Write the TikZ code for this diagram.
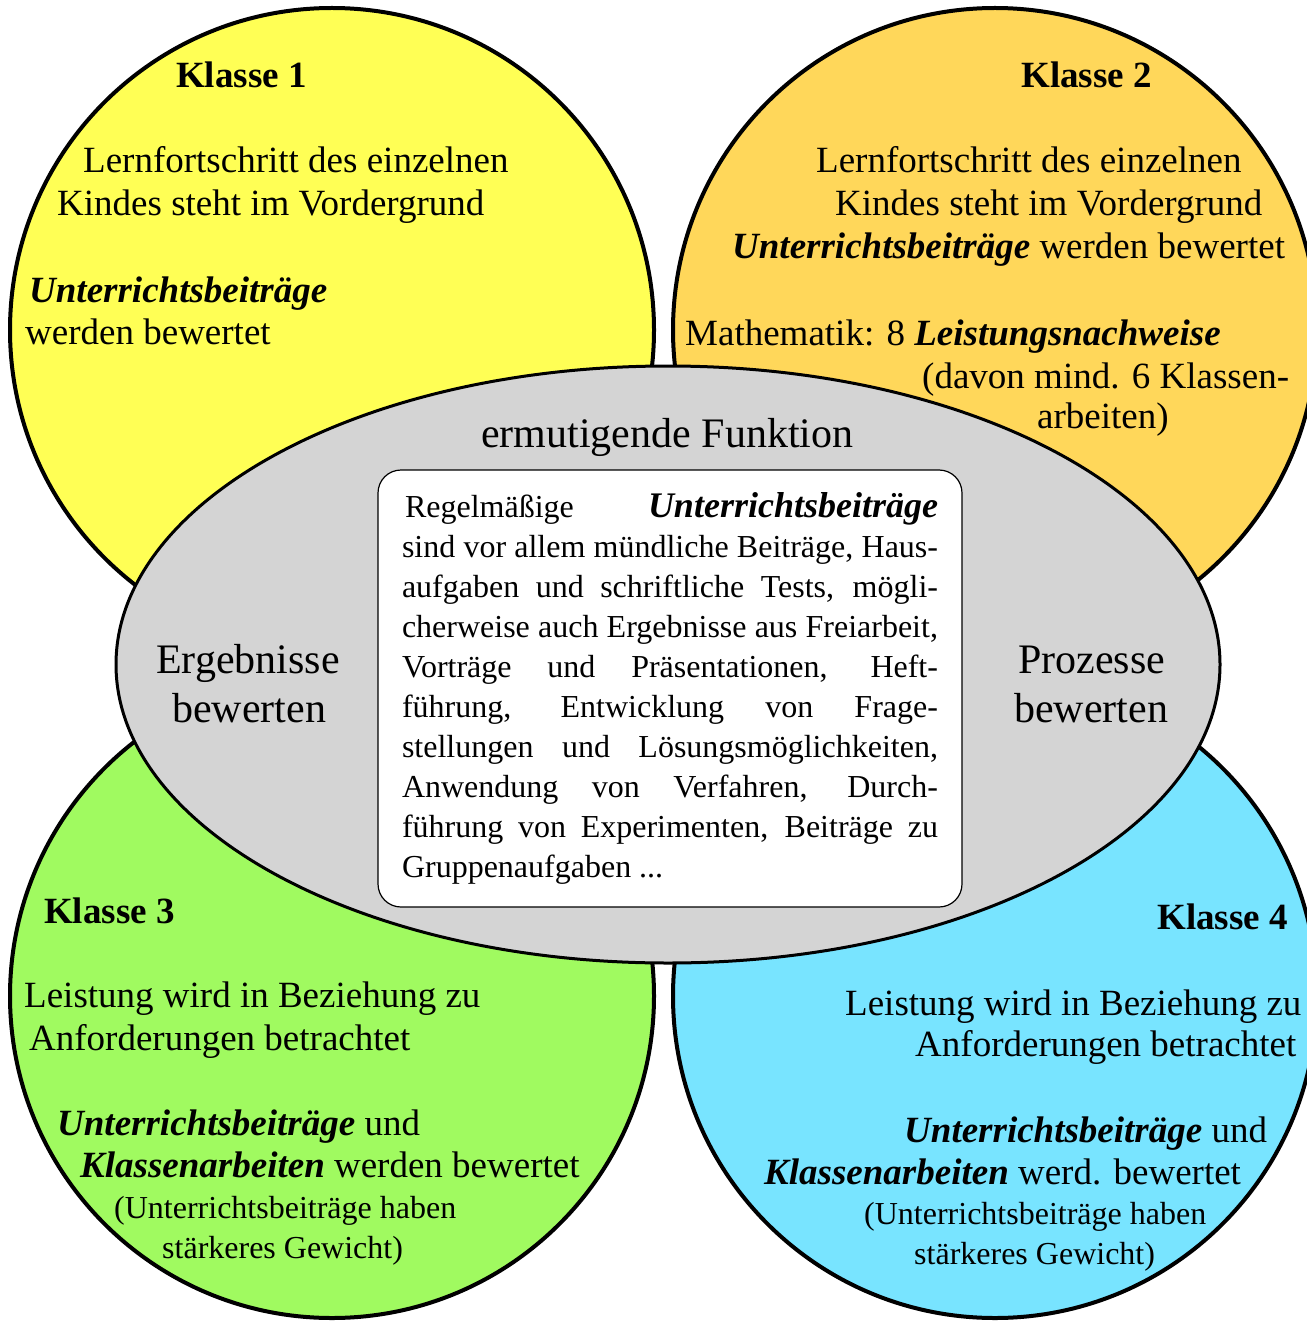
\documentclass[tikz,border=0pt]{standalone}
\usepackage{fontspec}
\setmainfont{Liberation Serif}
\usetikzlibrary{shapes.geometric}
\definecolor{gelb}{HTML}{FFFF55}
\definecolor{orange}{HTML}{FFD75A}
\definecolor{gruen}{HTML}{A0FA60}
\definecolor{himmel}{HTML}{78E4FF}
\definecolor{grau}{HTML}{D4D4D4}
\newcommand{\fett}[1]{\textbf{\textit{#1}}}
\begin{document}
\begin{tikzpicture}[x=1pt, y=-1pt,
  klasse/.style={circle,draw,line width=4pt,minimum size=644pt,inner sep=0pt},
  mitte/.style={ellipse,draw,fill=grau,line width=3pt,minimum width=1104pt,minimum height=597pt,inner sep=0pt},
  kasten/.style={rectangle,draw,fill=white,rounded corners=23pt,line width=1.2pt,minimum width=584pt,minimum height=437pt,
    text width=536pt,align=justify,inner sep=0pt,font=\fontsize{32}{40}\selectfont},
  zeile/.style={font=\fontsize{37}{43}\selectfont},
  titel/.style={font=\bfseries\fontsize{37}{43}\selectfont},
  klein/.style={font=\fontsize{32}{40}\selectfont},
  gross/.style={font=\fontsize{42}{48}\selectfont}]
\useasboundingbox (0,0) rectangle (1306,1321);
% vier Klassen
\node[klasse,fill=gelb] (k1) at (332,330) {};
\node[klasse,fill=orange] (k2) at (995,330) {};
\node[klasse,fill=gruen] (k3) at (332,996) {};
\node[klasse,fill=himmel] (k4) at (995,996) {};
% Mitte
\node[mitte] (ell) at (668,664.5) {};
\node[kasten] (kasten) at (670,688.5) {\hspace*{3pt}Regelmäßige {\fontsize{36}{40}\selectfont\fett{Unterrichtsbeiträge}}\linebreak
  sind vor allem mündliche Beiträge, Haus-\linebreak aufgaben und schriftliche Tests, mögli-\linebreak
  cherweise auch Ergebnisse aus Freiarbeit,\linebreak Vorträge und Präsentationen, Heft-\linebreak
  führung, Entwicklung von Frage-\linebreak stellungen und Lösungsmöglichkeiten,\linebreak
  Anwendung von Verfahren, Durch-\linebreak führung von Experimenten, Beiträge zu\linebreak
  Gruppenaufgaben ...};
\begin{scope}[every node/.style={anchor=base west,inner sep=0pt}]
\node[gross] (funktion) at (481,447) {ermutigende Funktion};
\node[gross] (erg) at (156,673) {Ergebnisse};
\node[gross] (erg2) at (172,722) {bewerten};
\node[gross] (proz) at (1018,673) {Prozesse};
\node[gross] (proz2) at (1014,722) {bewerten};
% Klasse 1
\node[titel] (t1) at (176,88) {Klasse 1};
\node[zeile] (k1a) at (83,173) {Lernfortschritt des einzelnen};
\node[zeile] (k1b) at (57,216) {Kindes steht im Vordergrund};
\node[zeile] (k1c) at (29,302) {\fett{Unterrichtsbeiträge}};
\node[zeile] (k1d) at (25,344) {werden bewertet};
% Klasse 2
\node[titel] (t2) at (1021,88) {Klasse 2};
\node[zeile] (k2a) at (816,173) {Lernfortschritt des einzelnen};
\node[zeile] (k2b) at (835,216) {Kindes steht im Vordergrund};
\node[zeile] (k2c) at (732,259) {\fett{Unterrichtsbeiträge} werden bewertet};
\node[zeile] (k2d) at (685,345) {Mathematik: 8 \fett{Leistungsnachweise}};
\node[zeile] (k2e) at (922,388) {(davon mind. 6 Klassen-};
\node[zeile] (k2f) at (1037,428) {arbeiten)};
% Klasse 3
\node[titel] (t3) at (44,923) {Klasse 3};
\node[zeile] (k3a) at (24,1007) {Leistung wird in Beziehung zu};
\node[zeile] (k3b) at (29,1050) {Anforderungen betrachtet};
\node[zeile] (k3c) at (57,1135) {\fett{Unterrichtsbeiträge} und};
\node[zeile] (k3d) at (80,1177) {\fett{Klassenarbeiten} werden bewertet};
\node[klein] (k3e) at (114,1218) {(Unterrichtsbeiträge haben};
\node[klein] (k3f) at (162,1258) {stärkeres Gewicht)};
% Klasse 4
\node[titel] (t4) at (1157,929) {Klasse 4};
\node[zeile] (k4a) at (845,1015) {Leistung wird in Beziehung zu};
\node[zeile] (k4b) at (915,1056) {Anforderungen betrachtet};
\node[zeile] (k4c) at (904,1142) {\fett{Unterrichtsbeiträge} und};
\node[zeile] (k4d) at (764,1184) {\fett{Klassenarbeiten} werd. bewertet};
\node[klein] (k4e) at (864,1224) {(Unterrichtsbeiträge haben};
\node[klein] (k4f) at (914,1264) {stärkeres Gewicht)};
\end{scope}
\end{tikzpicture}
\end{document}
